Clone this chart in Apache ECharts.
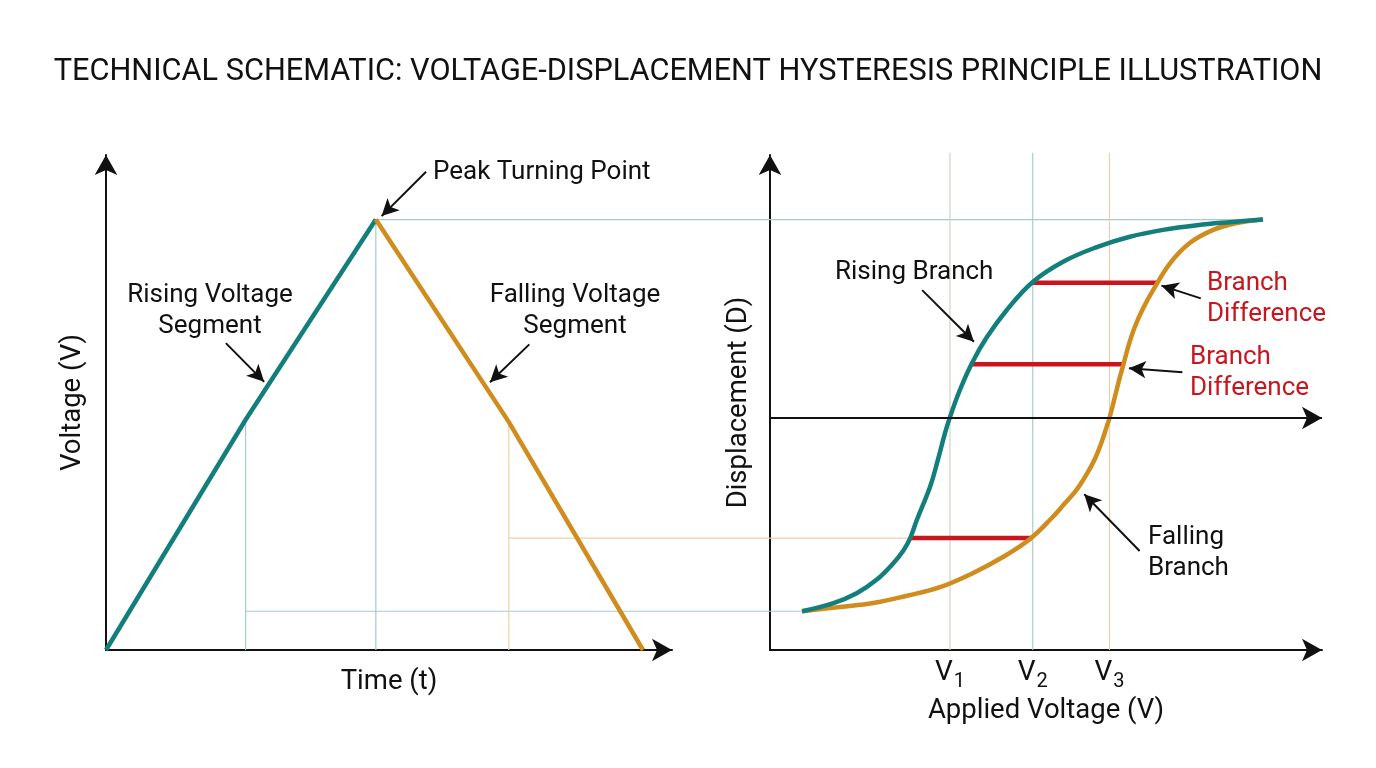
<!DOCTYPE html>
<html>
<head>
<meta charset="utf-8">
<style>
  html, body { margin: 0; background: #fff; }
  #main { width: 1376px; height: 768px; }
</style>
<script src="https://cdn.jsdelivr.net/npm/echarts@6/dist/echarts.min.js"></script>
</head>
<body>
<div id="main"></div>
<script>
// left panel: triangle voltage over time
const timeRise = [0, 1.04, 2.01]
const voltRise = [0, 5.35, 10]
const timeFall = [2.01, 3.0, 4.0]
const voltFall = [10, 5.3, 0]

// right panel: displacement vs applied voltage
const riseX = [0.58, 1.15, 1.57, 1.93, 2.23, 2.42, 2.54, 2.66, 2.90, 3.04, 3.17, 3.26, 3.44, 3.66, 3.93, 4.29, 4.76, 5.31, 5.92, 6.52, 7.12, 7.74, 8.33, 8.93]
const riseD = [0.90, 1.09, 1.32, 1.63, 2.01, 2.32, 2.60, 3.02, 3.79, 4.41, 5.04, 5.41, 6.04, 6.67, 7.27, 7.90, 8.55, 9.02, 9.36, 9.60, 9.76, 9.87, 9.94, 10.0]
const fallX = [0.58, 1.27, 1.87, 2.48, 3.08, 3.68, 4.22, 4.71, 5.10, 5.33, 5.56, 5.74, 5.89, 6.01, 6.10, 6.15, 6.25, 6.34, 6.40, 6.49, 6.61, 6.76, 6.94, 7.25, 7.61, 8.03, 8.46, 8.93]
const fallD = [0.90, 1.00, 1.09, 1.26, 1.46, 1.79, 2.16, 2.58, 3.06, 3.39, 3.73, 4.09, 4.45, 4.84, 5.19, 5.39, 5.89, 6.35, 6.62, 7.05, 7.51, 7.94, 8.36, 8.99, 9.46, 9.76, 9.92, 10.0]

// V1, V2, V3 tick positions
const vTicks = [3.26, 4.76, 6.15]
const vNames = ['1', '2', '3']

// branch difference bars (displacement, from, to)
const diffD = [8.53, 6.64, 2.60]
const diffFrom = [4.76, 3.65, 2.53]
const diffTo = [7.03, 6.39, 4.74]

const midAxisD = 5.39

const FONT = 'Roboto, "Noto Sans", sans-serif'
const TEAL = '#137f7c'
const ORANGE = '#d08c1c'
const RED = '#c8161e'
const INK = '#111'

const chart = echarts.init(document.getElementById('main'))

const zip = (xs, ys) => xs.map((x, i) => [x, ys[i]])

const arrowAxis = (extra) => Object.assign({
  type: 'value',
  axisLine: {
    show: true,
    onZero: false,
    symbol: ['none', 'arrow'],
    symbolSize: [17, 20],
    lineStyle: { color: INK, width: 2 }
  },
  axisTick: { show: false },
  axisLabel: { show: false },
  splitLine: { show: false },
  nameLocation: 'middle',
  nameTextStyle: { fontFamily: FONT, fontSize: 27.5, color: INK }
}, extra)

// annotation arrow, data coords of its panel
const pointer = (from, to) => [{ coord: from }, { coord: to }]
const pointerStyle = {
  silent: true,
  symbol: ['none', 'arrow'],
  symbolSize: [13, 17],
  lineStyle: { color: INK, width: 2, type: 'solid' },
  label: { show: false }
}

const option = {
  animation: false,
  backgroundColor: '#fff',
  title: {
    text: 'TECHNICAL SCHEMATIC: VOLTAGE-DISPLACEMENT HYSTERESIS PRINCIPLE ILLUSTRATION',
    left: 'center',
    top: 52,
    textStyle: { fontFamily: FONT, fontSize: 30.7, fontWeight: 'normal', color: INK }
  },
  grid: [
    { left: 106, top: 155, width: 566, height: 495 },
    { left: 770, top: 155, width: 552, height: 495 }
  ],
  xAxis: [
    arrowAxis({ gridIndex: 0, min: 0, max: 4.216, name: 'Time (t)', nameGap: 18 }),
    arrowAxis({
      gridIndex: 1, min: 0, max: 10, name: 'Applied Voltage (V)', nameGap: 46,
      axisLabel: {
        show: true,
        customValues: vTicks,
        margin: 4,
        fontFamily: FONT,
        fontSize: 28,
        color: INK,
        formatter: (val) => {
          const i = vTicks.findIndex(v => Math.abs(v - val) < 1e-6)
          return 'V{s|' + vNames[i] + '}'
        },
        rich: { s: { fontFamily: FONT, fontSize: 20, color: INK, padding: [18, 0, 0, 1] } }
      }
    })
  ],
  yAxis: [
    arrowAxis({ gridIndex: 0, min: 0, max: 11.5, name: 'Voltage (V)', nameGap: 19 }),
    arrowAxis({ gridIndex: 1, min: 0, max: 11.5, name: 'Displacement (D)', nameGap: 17 })
  ],
  series: [
    {
      type: 'line', xAxisIndex: 0, yAxisIndex: 0, symbol: 'none',
      data: zip(timeRise, voltRise),
      lineStyle: { color: TEAL, width: 4.5 },
      markLine: Object.assign({ data: [pointer([0.893, 7.13], [1.178, 6.23])] }, pointerStyle)
    },
    {
      type: 'line', xAxisIndex: 0, yAxisIndex: 0, symbol: 'none',
      data: zip(timeFall, voltFall),
      lineStyle: { color: ORANGE, width: 4.5 },
      markLine: Object.assign({
        data: [
          pointer([3.153, 7.10], [2.86, 6.22]),
          pointer([2.384, 11.11], [2.053, 10.08])
        ]
      }, pointerStyle)
    },
    {
      type: 'line', xAxisIndex: 1, yAxisIndex: 1, symbol: 'none', smooth: 0.4,
      data: zip(riseX, riseD),
      lineStyle: { color: TEAL, width: 4.5 },
      z: 4,
      markLine: Object.assign({
        data: [
          pointer([2.757, 8.36], [3.694, 7.16]),
          pointer([6.696, 2.30], [5.693, 3.62]),
          pointer([7.804, 8.17], [7.091, 8.465]),
          pointer([7.471, 6.45], [6.502, 6.545])
        ]
      }, pointerStyle)
    },
    {
      type: 'line', xAxisIndex: 1, yAxisIndex: 1, symbol: 'none', smooth: 0.4,
      data: zip(fallX, fallD),
      lineStyle: { color: ORANGE, width: 4.5 },
      z: 3,
      // middle reference axis of the displacement panel
      markLine: Object.assign({}, pointerStyle, {
        symbolSize: [17, 20],
        data: [pointer([0, midAxisD], [10, midAxisD])]
      })
    }
  ].concat(diffD.map((d, i) => ({
    type: 'line', xAxisIndex: 1, yAxisIndex: 1, symbol: 'none', z: 2,
    data: [[diffFrom[i], d], [diffTo[i], d]],
    lineStyle: { color: RED, width: 4.5 }
  })))
}

chart.setOption(option)

// guide lines, located through the axes of both panels
const L = (p) => chart.convertToPixel({ gridIndex: 0 }, p)
const R = (p) => chart.convertToPixel({ gridIndex: 1 }, p)
const guide = (a, b, color) => ({
  type: 'line', silent: true, z: 1,
  shape: { x1: a[0], y1: a[1], x2: b[0], y2: b[1] },
  style: { stroke: color, lineWidth: 1.2 }
})
const TEAL_G = '#a6cbcb'
const ORANGE_G = '#edd0a4'
const V_COLORS = ['#d4d3c5', '#a9cccc', '#ebcfae']

const guides = [
  guide(L([timeRise[1], voltRise[1]]), L([timeRise[1], 0]), TEAL_G),
  guide(L([timeRise[1], riseD[0]]), R([riseX[0], riseD[0]]), TEAL_G),
  guide(L([timeRise[2], voltRise[2]]), L([timeRise[2], 0]), TEAL_G),
  guide(L([timeRise[2], voltRise[2]]), R([riseX[riseX.length - 1], riseD[riseD.length - 1]]), TEAL_G),
  guide(L([timeFall[1], voltFall[1]]), L([timeFall[1], 0]), ORANGE_G),
  guide(L([timeFall[1], diffD[2]]), R([diffFrom[2], diffD[2]]), ORANGE_G)
].concat(vTicks.map((v, i) => guide(R([v, 0]), R([v, 11.55]), V_COLORS[i])))

const txt = (text, x, y, align, color) => ({
  type: 'text', x, y, z: 10, silent: true,
  style: {
    text, font: '26px ' + FONT, fill: color || INK,
    align: align || 'left', verticalAlign: 'middle', lineHeight: 31
  }
})

const labels = [
  txt('Peak Turning Point', 433, 172),
  txt('Rising Voltage\nSegment', 210, 311, 'center'),
  txt('Falling Voltage\nSegment', 575, 311, 'center'),
  txt('Rising Branch', 835, 272),
  txt('Branch\nDifference', 1207, 299, 'left', RED),
  txt('Branch\nDifference', 1190, 373, 'left', RED),
  txt('Falling\nBranch', 1148, 553)
]

chart.setOption({ graphic: guides.concat(labels) })
</script>
</body>
</html>
